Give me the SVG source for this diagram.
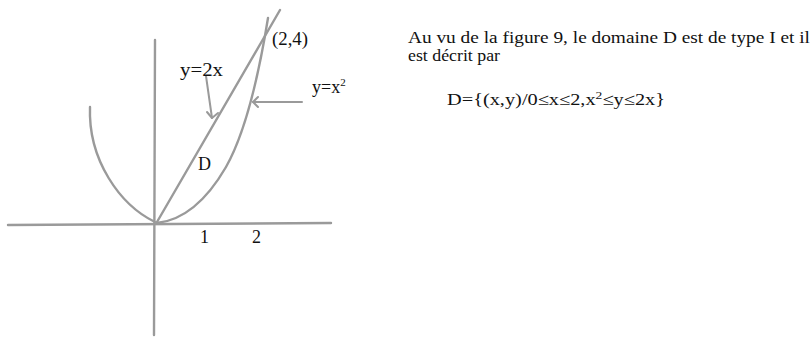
<svg xmlns="http://www.w3.org/2000/svg" width="811" height="337" viewBox="0 0 811 337">
<style>
.ln{fill:none;stroke:#9a9a9a;stroke-width:2.4;stroke-linecap:round;stroke-linejoin:round}
.ar{fill:none;stroke:#9a9a9a;stroke-width:2;stroke-linecap:round;stroke-linejoin:round}
.t{font-family:"Liberation Serif","DejaVu Serif",serif;fill:#111;font-size:18px}
.p{font-family:"Liberation Serif","DejaVu Serif",serif;fill:#111;font-size:16.5px}
</style>
<rect width="811" height="337" fill="#fff"/>
<g id="axes">
<path class="ln" d="M8 225 L331 223"/>
<path class="ln" d="M155 40 L154 335"/>
</g>
<g id="curves">
<path class="ln" d="M90 107 C88 160 120 205 155 222"/>
<path class="ln" d="M157 223 C185 220 208 198 226 167 C244 135 258 80 268 18"/>
<path class="ln" d="M157 222 L280 10"/>
</g>
<g id="connectors">
<path class="ar" d="M206 76 L212 118"/>
<path class="ar" d="M207 112 L212 118 L218 113"/>
<path class="ar" d="M302 102 L253 102"/>
<path class="ar" d="M258 97 L253 102 L258 107"/>
</g>
<g id="labels" font-family="Liberation Serif, serif">
<text class="t" x="180" y="76" textLength="43" lengthAdjust="spacingAndGlyphs">y=2x</text>
<text class="t" x="272" y="45" textLength="36" lengthAdjust="spacingAndGlyphs">(2,4)</text>
<text class="t" x="312" y="93">y=x<tspan font-size="11" dy="-7">2</tspan></text>
<text class="t" x="198" y="170">D</text>
<text class="t" x="200" y="243">1</text>
<text class="t" x="252" y="243">2</text>
</g>
<g id="para" font-family="Liberation Serif, serif">
<text class="p" x="408" y="42.5" textLength="402" lengthAdjust="spacingAndGlyphs">Au vu de la figure 9, le domaine D est de type I et il</text>
<text class="p" x="408" y="61" textLength="92" lengthAdjust="spacingAndGlyphs">est décrit par</text>
<text class="p" x="447" y="105" textLength="218" lengthAdjust="spacingAndGlyphs">D={(x,y)/0≤x≤2,x<tspan font-size="11" dy="-6">2</tspan><tspan dy="6">≤y≤2x}</tspan></text>
</g>
</svg>
